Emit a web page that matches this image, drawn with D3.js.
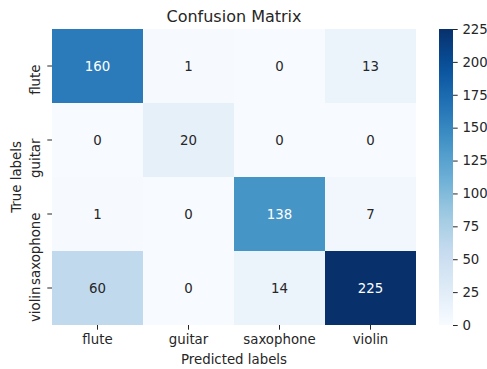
<!DOCTYPE html>
<html>
<head>
<meta charset="utf-8">
<script src="https://cdn.jsdelivr.net/npm/d3@7"></script>
<style>
html,body{margin:0;padding:0;background:#fff;}
svg{display:block;font-family:"DejaVu Sans",sans-serif;}
</style>
</head>
<body>
<svg id="chart" width="487" height="369"></svg>
<script>
const predictedLabels = ["flute", "guitar", "saxophone", "violin"];
const trueLabels = ["flute", "guitar", "saxophone", "violin"];
const rowFlute = [160, 1, 0, 13];
const rowGuitar = [0, 20, 0, 0];
const rowSaxophone = [1, 0, 138, 7];
const rowViolin = [60, 0, 14, 225];
const colorbarTicks = [0, 25, 50, 75, 100, 125, 150, 175, 200, 225];
const title = "Confusion Matrix";
const xTitle = "Predicted labels";
const yTitle = "True labels";

const matrix = [rowFlute, rowGuitar, rowSaxophone, rowViolin];
const blues = ["#f7fbff","#deebf7","#c6dbef","#9ecae1","#6baed6","#4292c6","#2171b5","#08519c","#08306b"];
const interp = d3.piecewise(d3.interpolateRgb, blues);
const vmin = 0, vmax = 225;
const color = v => interp(Math.max(0, Math.min(1, (v - vmin) / (vmax - vmin))));

const svg = d3.select("#chart");
const ink = "#262626";
const fs = 13.33;

const L = 52, R = 416, T = 29, B = 325;
const x = d3.scaleBand().domain(predictedLabels).range([L, R]);
const y = d3.scaleBand().domain(trueLabels).range([T, B]);

function lum(c) {
  const rgb = d3.rgb(c);
  const f = v => { v /= 255; return v <= 0.03928 ? v / 12.92 : Math.pow((v + 0.055) / 1.055, 2.4); };
  return 0.2126 * f(rgb.r) + 0.7152 * f(rgb.g) + 0.0722 * f(rgb.b);
}

const cells = [];
matrix.forEach((row, i) => row.forEach((v, j) => cells.push({r: trueLabels[i], c: predictedLabels[j], v})));

svg.append("g").selectAll("rect").data(cells).join("rect")
  .attr("x", d => x(d.c)).attr("y", d => y(d.r))
  .attr("width", x.bandwidth()).attr("height", y.bandwidth())
  .attr("fill", d => color(d.v));

svg.append("g").selectAll("text").data(cells).join("text")
  .attr("x", d => x(d.c) + x.bandwidth() / 2)
  .attr("y", d => y(d.r) + y.bandwidth() / 2)
  .attr("text-anchor", "middle").attr("dominant-baseline", "central")
  .attr("font-size", fs)
  .attr("fill", d => lum(color(d.v)) > 0.408 ? ink : "#ffffff")
  .text(d => d.v);

// x axis
const xAxis = svg.append("g").attr("transform", `translate(0,${B})`)
  .call(d3.axisBottom(x).tickSize(4.7).tickPadding(4.7));
xAxis.select(".domain").remove();
xAxis.selectAll("line").attr("stroke", ink).attr("stroke-width", 1);
xAxis.selectAll("text").attr("font-size", fs).attr("fill", ink).attr("font-family", "DejaVu Sans");

// y axis
const yAxis = svg.append("g").attr("transform", `translate(${L},0)`)
  .call(d3.axisLeft(y).tickSize(4.7).tickPadding(4.7));
yAxis.select(".domain").remove();
yAxis.selectAll("line").attr("stroke", ink).attr("stroke-width", 1);
yAxis.selectAll("text")
  .attr("font-size", fs).attr("fill", ink).attr("font-family", "DejaVu Sans")
  .attr("x", null).attr("dy", null)
  .attr("text-anchor", "end")
  .attr("transform", "translate(-12.5,-1.5) rotate(-90)");

// titles
svg.append("text").attr("x", (L + R) / 2).attr("y", 22)
  .attr("text-anchor", "middle").attr("font-size", 16).attr("fill", ink).text(title);
svg.append("text").attr("x", (L + R) / 2).attr("y", 364)
  .attr("text-anchor", "middle").attr("font-size", fs).attr("fill", ink).text(xTitle);
svg.append("text").attr("transform", `translate(21,${(T + B) / 2}) rotate(-90)`)
  .attr("text-anchor", "middle").attr("font-size", fs).attr("fill", ink).text(yTitle);

// colorbar
const cbL = 439, cbW = 14;
const defs = svg.append("defs");
const grad = defs.append("linearGradient").attr("id", "cbgrad")
  .attr("x1", 0).attr("y1", 1).attr("x2", 0).attr("y2", 0);
d3.range(0, 1.0001, 0.05).forEach(t => grad.append("stop")
  .attr("offset", t).attr("stop-color", color(vmin + t * (vmax - vmin))));
svg.append("rect").attr("x", cbL).attr("y", T).attr("width", cbW).attr("height", B - T)
  .attr("fill", "url(#cbgrad)");
const cy = d3.scaleLinear().domain([vmin, vmax]).range([B, T]);
const cAxis = svg.append("g").attr("transform", `translate(${cbL + cbW},0)`)
  .call(d3.axisRight(cy).tickValues(colorbarTicks).tickSize(4.7).tickPadding(4.7));
cAxis.select(".domain").remove();
cAxis.selectAll("line").attr("stroke", ink).attr("stroke-width", 1);
cAxis.selectAll("text").attr("font-size", fs).attr("fill", ink).attr("font-family", "DejaVu Sans");
</script>
</body>
</html>
